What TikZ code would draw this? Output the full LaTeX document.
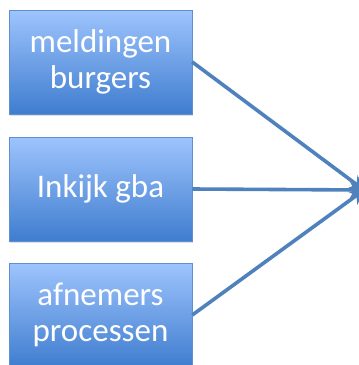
\documentclass[tikz,border=0pt]{standalone}
\usepackage{fontspec}
\setmainfont{Carlito}
\usetikzlibrary{arrows.meta,shadows}
\definecolor{boxtop}{HTML}{9EC4FD}
\definecolor{boxbottom}{HTML}{3F7DCF}
\definecolor{boxline}{HTML}{5E8FD4}
\definecolor{linkblue}{HTML}{4F81BD}
\newcommand{\boxwidth}{183pt}
\newcommand{\boxheight}{104pt}
\tikzset{
    srcbox/.style={rectangle, draw=boxline, line width=0.6pt,
        top color=boxtop, bottom color=boxbottom,
        minimum width=\boxwidth, minimum height=\boxheight,
        text=white, align=center, font=\fontsize{33}{36}\selectfont,
        drop shadow={shadow xshift=1pt, shadow yshift=-2pt, opacity=0.25}},
    link/.style={linkblue, line width=3.6pt, -{Stealth[length=14pt,width=16pt]}}
}

\begin{document}
\begin{tikzpicture}[x=1pt,y=1pt]

\useasboundingbox (0,0) rectangle (359,-365);

% source coordinates
\coordinate (s1) at (100.5,-62);
\coordinate (s2) at (100.5,-189);
\coordinate (s3) at (100.5,-315);

% target lies just past the right edge
\coordinate (t) at (364,-190);

\node[srcbox] (melding) at (s1) {meldingen\\burgers};
\node[srcbox] (inkijk) at (s2) {Inkijk gba};
\node[srcbox] (afnemer) at (s3) {afnemers\\processen};

\foreach \src in {melding, inkijk, afnemer}
    \draw[link] (\src.east) -- (t);

\end{tikzpicture}
\end{document}
